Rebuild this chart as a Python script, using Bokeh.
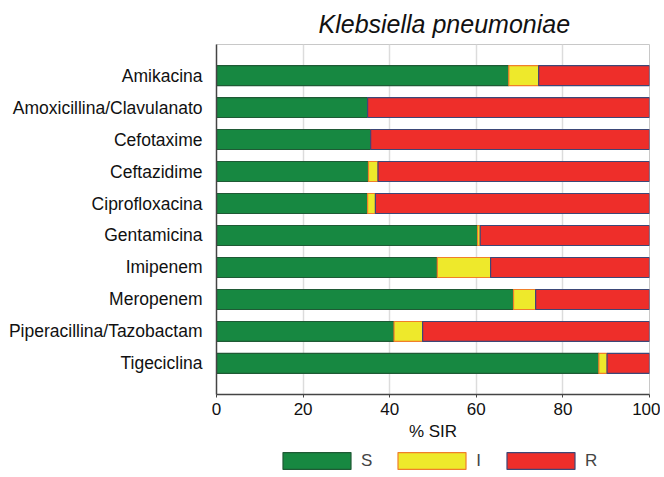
from bokeh.plotting import figure
from bokeh.layouts import column
from bokeh.core.properties import value
from bokeh.models import FactorRange, Range1d, Legend, LegendItem, ColumnDataSource
from bokeh.embed import file_html
from bokeh.resources import INLINE

antibiotics = ["Amikacina", "Amoxicillina/Clavulanato", "Cefotaxime", "Ceftazidime",
               "Ciprofloxacina", "Gentamicina", "Imipenem", "Meropenem",
               "Piperacillina/Tazobactam", "Tigeciclina"]
S = [67.5, 34.9, 35.6, 35.1, 34.9, 60.3, 51.0, 68.6, 41.0, 88.3]
I = [6.9, 0.0, 0.0, 2.2, 1.8, 0.6, 12.3, 5.1, 6.6, 1.9]
R = [round(100 - s - i, 1) for s, i in zip(S, I)]
x_ticks = [0, 20, 40, 60, 80, 100]
categories = ["S", "I", "R"]
fills = ["#178841", "#eee92b", "#ee2e2a"]
edges = ["#1f5a35", "#f07f2a", "#3d4777"]

source = ColumnDataSource(dict(drug=antibiotics, S=S, I=I, R=R))

FONT = "Liberation Sans"

p = figure(width=660, height=448, output_backend="svg", toolbar_location=None,
           y_range=FactorRange(factors=list(reversed(antibiotics)), range_padding=0.094),
           x_range=Range1d(0, 100),
           min_border_left=216, min_border_right=11, min_border_top=44, min_border_bottom=54)

renderers = p.hbar_stack(categories, y="drug", height=0.625, source=source,
                         fill_color=fills, line_color=edges, line_width=1.2)

p.title.text = "Klebsiella pneumoniae"
p.title.text_font = FONT
p.title.text_font_style = "italic"
p.title.text_font_size = "25px"
p.title.align = "left"
p.title.offset = 102
p.title.text_color = "#111111"
p.title.standoff = 13

p.xaxis.ticker = x_ticks
p.xaxis.axis_label = "% SIR"
p.xaxis.axis_label_text_font = FONT
p.xaxis.axis_label_text_font_style = "normal"
p.xaxis.axis_label_text_font_size = "17px"
p.xaxis.axis_label_text_color = "#111111"
p.xaxis.axis_label_standoff = 4
p.xaxis.major_label_text_font = FONT
p.xaxis.major_label_text_font_size = "17px"
p.xaxis.major_label_text_color = "#111111"
p.xaxis.major_tick_in = 0
p.xaxis.major_tick_out = 3
p.xaxis.minor_tick_line_color = None
p.xaxis.axis_line_color = "#444444"
p.xaxis.axis_line_width = 1.5
p.xaxis.major_tick_line_color = "#444444"
p.xaxis.major_label_standoff = 5

p.yaxis.major_label_text_font = FONT
p.yaxis.major_label_text_font_size = "17.5px"
p.yaxis.major_label_text_color = "#111111"
p.yaxis.major_tick_line_color = None
p.yaxis.minor_tick_line_color = None
p.yaxis.axis_line_color = "#444444"
p.yaxis.axis_line_width = 1.5
p.yaxis.major_label_standoff = 8

p.xgrid.grid_line_color = "#dcdcdc"
p.xgrid.grid_line_width = 1.5
p.ygrid.grid_line_color = None
p.outline_line_color = "#c8c8c8"

# legend strip below the chart; its renderers are hidden, only their legend keys show
lg = figure(width=660, height=23, output_backend="svg", toolbar_location=None,
            x_range=Range1d(101, 102), y_range=FactorRange(factors=antibiotics),
            min_border=0, outline_line_color=None)
lg.axis.visible = False
lg.grid.visible = False
lg_renderers = lg.hbar_stack(categories, y="drug", height=0.625, source=source,
                             fill_color=fills, line_color=edges, line_width=1.2)
for r in lg_renderers:
    r.visible = False
items = [LegendItem(label=value(cat), renderers=[r]) for cat, r in zip(categories, lg_renderers)]
legend = Legend(items=items, orientation="horizontal", location=(58, 0),
                glyph_width=85, glyph_height=21, label_text_font=FONT,
                label_text_font_size="17px", label_standoff=2, spacing=17,
                label_width=0, label_height=17, border_line_color=None,
                background_fill_alpha=0, inactive_fill_alpha=0,
                margin=0, padding=0)
lg.add_layout(legend, "center")

layout = column(p, lg, spacing=0)
open("out.html", "w").write(file_html(layout, INLINE))
